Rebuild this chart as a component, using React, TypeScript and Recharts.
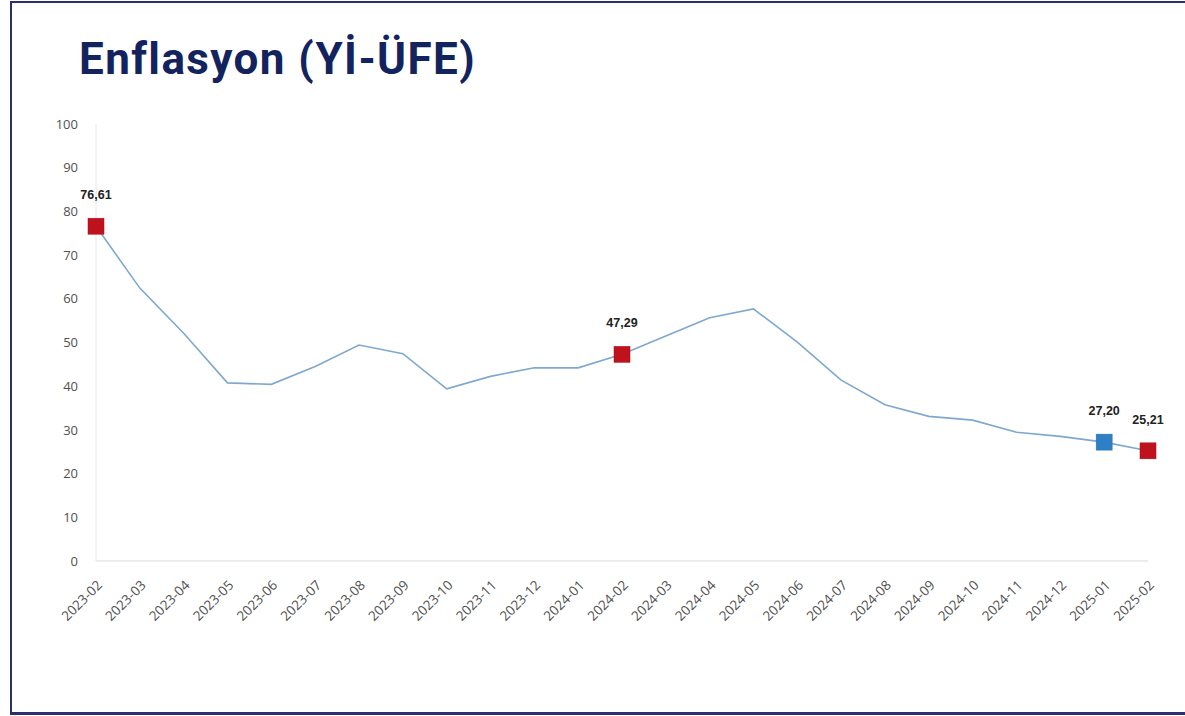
import { LabelList, Line, LineChart, XAxis, YAxis } from 'recharts';

const months = [
  '2023-02', '2023-03', '2023-04', '2023-05', '2023-06', '2023-07', '2023-08',
  '2023-09', '2023-10', '2023-11', '2023-12', '2024-01', '2024-02', '2024-03',
  '2024-04', '2024-05', '2024-06', '2024-07', '2024-08', '2024-09', '2024-10',
  '2024-11', '2024-12', '2025-01', '2025-02',
];

const ufe = [
  76.61, 62.45, 52.11, 40.76, 40.42, 44.5, 49.41, 47.44, 39.39, 42.25, 44.22,
  44.2, 47.29, 51.47, 55.66, 57.68, 50.09, 41.37, 35.75, 33.09, 32.24, 29.47,
  28.52, 27.2, 25.21,
];

// highlighted months: 'r' = red marker, 'b' = blue marker
const highlights: Record<string, string> = {
  '2023-02': 'r',
  '2024-02': 'r',
  '2025-01': 'b',
  '2025-02': 'r',
};

const yTicks = [0, 10, 20, 30, 40, 50, 60, 70, 80, 90, 100];

const data = months.map((m, i) => ({ name: m, value: ufe[i] }));

const markerFill: Record<string, string> = { r: '#c0121c', b: '#2f7fc5' };

const Dot = (props: any) => {
  const { cx, cy, payload, index } = props;
  const h = highlights[payload.name];
  if (!h) return <g key={index} />;
  return (
    <rect
      key={index}
      x={cx - 8}
      y={cy - 8}
      width={16}
      height={16}
      fill={markerFill[h]}
      stroke={h === 'r' ? '#a80f18' : '#2a6fb0'}
      strokeWidth={0.5}
    />
  );
};

const ValueLabel = (props: any) => {
  const { x, y, value, index } = props;
  if (!highlights[months[index]]) return null;
  return (
    <text
      x={x}
      y={y - 27}
      textAnchor="middle"
      fontSize={12.5}
      fontWeight="bold"
      fill="#222"
      fontFamily="'Liberation Sans', Arial, sans-serif"
    >
      {value.toFixed(2).replace('.', ',')}
    </text>
  );
};

const MonthTick = (props: any) => {
  const { x, y, payload } = props;
  const tx = x + 7;
  const ty = y + 17;
  return (
    <text
      x={tx}
      y={ty}
      transform={`rotate(-45, ${tx}, ${ty})`}
      textAnchor="end"
      fontSize={13.5}
      fill="#505050"
      fontFamily="'Open Sans', sans-serif"
    >
      {payload.value}
    </text>
  );
};

const App = () => {
  return (
    <div
      style={{
        position: 'absolute',
        left: 0,
        top: 0,
        width: 1185,
        height: 716,
        background: '#fff',
        overflow: 'hidden',
      }}
    >
      <div
        style={{
          position: 'absolute',
          left: 10,
          top: 1,
          width: 1200,
          height: 714,
          borderLeft: '2px solid #2b2f6e',
          borderTop: '2px solid #2b2f6e',
          borderBottom: '3px solid #2b2f6e',
          boxSizing: 'border-box',
        }}
      />
      <div
        style={{
          position: 'absolute',
          left: 79,
          top: 34,
          fontFamily: 'Roboto, sans-serif',
          fontWeight: 'bold',
          fontSize: 44,
          letterSpacing: 1.4,
          lineHeight: '50px',
          color: '#13235e',
        }}
      >
        Enflasyon (Yİ-ÜFE)
      </div>
      <div style={{ position: 'absolute', left: 0, top: 0 }}>
        <LineChart
          width={1185}
          height={716}
          data={data}
          margin={{ top: 124, right: 37, bottom: 95, left: 36 }}
        >
          <XAxis
            dataKey="name"
            interval={0}
            height={60}
            tickLine={false}
            stroke="#d9d9d9"
            tick={<MonthTick />}
          />
          <YAxis
            width={60}
            domain={[0, 100]}
            ticks={yTicks}
            interval={0}
            tickLine={false}
            tickSize={0}
            tickMargin={18}
            stroke="#e6e6e6"
            tick={{ fill: '#505050', fontSize: 13, fontFamily: "'Open Sans', sans-serif" }}
          />
          <Line
            type="linear"
            dataKey="value"
            stroke="#7ea8cf"
            strokeWidth={1.6}
            dot={<Dot />}
            activeDot={false}
            isAnimationActive={false}
          >
            <LabelList dataKey="value" content={<ValueLabel />} />
          </Line>
        </LineChart>
      </div>
    </div>
  );
};

export default App;
